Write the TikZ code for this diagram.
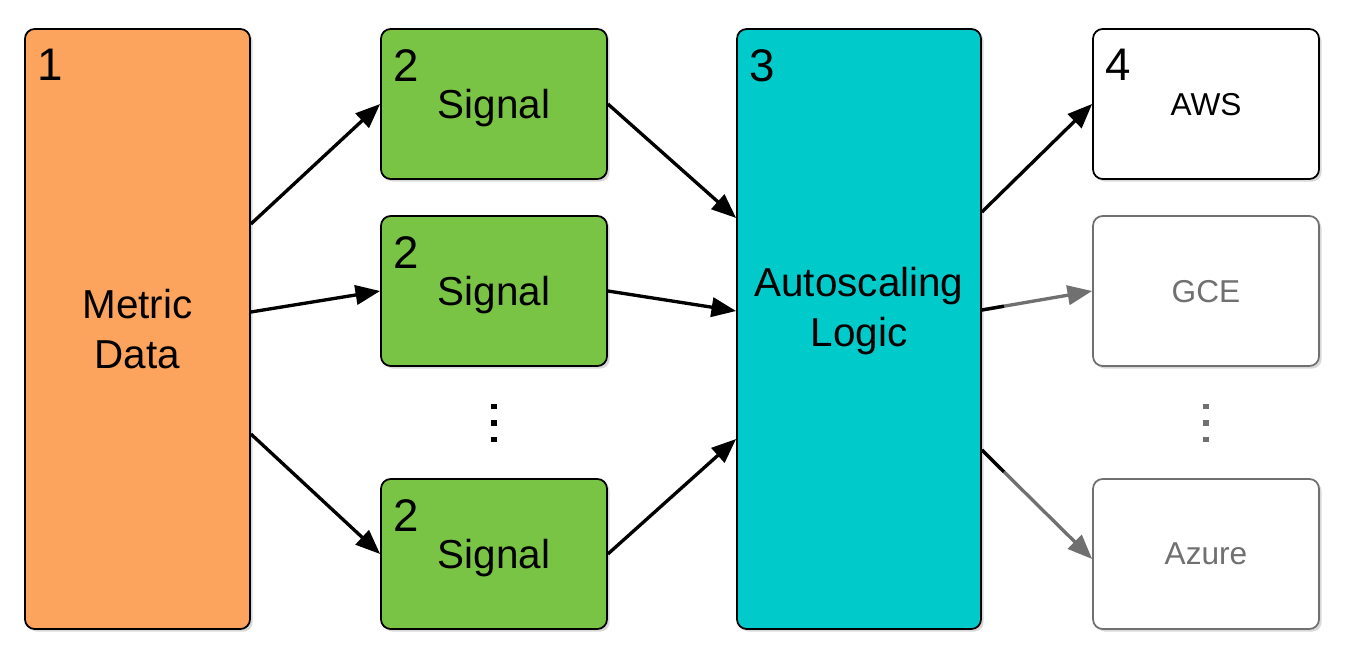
\documentclass[tikz,border=0pt]{standalone}
\usepackage{fontspec}
\setmainfont{Liberation Sans}
\usepackage{tikz}
\usetikzlibrary{arrows.meta, calc, positioning, shadows}

\definecolor{metricorange}{RGB}{252,163,93}
\definecolor{signalgreen}{RGB}{122,196,69}
\definecolor{logiccyan}{RGB}{0,202,202}
\definecolor{cloudgrey}{RGB}{112,112,112}

\begin{document}
\begin{tikzpicture}[on grid,
    box/.style={draw=black, line width=1pt, rounded corners=5.5pt, inner sep=0pt, align=center,
      font=\fontsize{23}{28}\selectfont,
      drop shadow={opacity=0.3, shadow xshift=1.5pt, shadow yshift=-1.5pt}},
    tall/.style={box, minimum height=12cm},
    small/.style={box, minimum width=4.52cm, minimum height=3cm, text depth=0pt},
    cloud/.style={small, fill=white, font=\fontsize{18}{22}\selectfont},
    off/.style={draw=cloudgrey, text=cloudgrey},
    num/.style={anchor=north west, inner sep=0pt, font=\fontsize{26}{30}\selectfont},
    link/.style={line width=1.9pt, -{Triangle[length=14pt,width=11pt]}},
    dot/.style={fill, minimum size=2.9pt, inner sep=0pt}]
      \useasboundingbox (0,0) rectangle (27,-13.2);

      \node[tall, minimum width=4.5cm, fill=metricorange] (metric) at (2.75,-6.58) {Metric\\Data};
      \node[small, fill=signalgreen] (sig_1) [above right=4.5cm and 7.13cm of metric] {Signal};
      \node[small, fill=signalgreen] (sig_2) [above right=0.76cm and 7.13cm of metric] {Signal};
      \node[small, fill=signalgreen] (sig_3) [below right=4.5cm and 7.13cm of metric] {Signal};
      \node[tall, minimum width=4.88cm, fill=logiccyan,
            label={[yshift=0.36cm, align=center, font=\fontsize{23}{28}\selectfont]center:Autoscaling\\Logic}]
            (asl) [right=14.43cm of metric] {};
      \node[cloud] (aws) [right=14.24cm of sig_1] {AWS};
      \node[cloud, off] (gce) [right=14.24cm of sig_2] {GCE};
      \node[cloud, off] (azure) [right=14.24cm of sig_3] {Azure};

      % step numbers
      \node[num] (n_1) at ([shift={(0.26,-0.42)}]metric.north west) {1};
      \node[num] (n_2) at ([shift={(0.26,-0.42)}]sig_1.north west) {2};
      \node[num] (n_3) at ([shift={(0.26,-0.42)}]sig_2.north west) {2};
      \node[num] (n_4) at ([shift={(0.26,-0.42)}]sig_3.north west) {2};
      \node[num] (n_5) at ([shift={(0.26,-0.42)}]asl.north west) {3};
      \node[num] (n_6) at ([shift={(0.26,-0.42)}]aws.north west) {4};

      % gaps
      \coordinate[below=2.64cm of sig_2] (gap_s);
      \coordinate[below=2.64cm of gce] (gap_c);
      \foreach \d [count=\i] in {0.33,0,-0.33} {
        \node[dot] (ds_\i) at ([yshift=\d cm]gap_s) {};
        \node[dot, cloudgrey] (dc_\i) at ([yshift=\d cm]gap_c) {};
      }

      \draw[link] ([yshift=2.1cm]metric.east) -- (sig_1.west);
      \draw[link] ([yshift=0.34cm]metric.east) -- (sig_2.west);
      \draw[link] ([yshift=-2.1cm]metric.east) -- (sig_3.west);
      \draw[link] (sig_1.east) -- ([yshift=2.22cm]asl.west);
      \draw[link] (sig_2.east) -- ([yshift=0.36cm]asl.west);
      \draw[link] (sig_3.east) -- ([yshift=-2.2cm]asl.west);
      \draw[link] ([yshift=2.34cm]asl.east) -- (aws.west);
      \draw[link, cloudgrey] ([yshift=0.38cm]asl.east) -- (gce.west);
      \draw[link, cloudgrey] ([yshift=-2.42cm]asl.east) -- ([yshift=-0.1cm]azure.west);
      \draw[line width=1.9pt] ([yshift=0.38cm]asl.east) -- ($([yshift=0.38cm]asl.east)!0.2!(gce.west)$);
      \draw[line width=1.9pt] ([yshift=-2.42cm]asl.east) -- ($([yshift=-2.42cm]asl.east)!0.2!([yshift=-0.1cm]azure.west)$);
\end{tikzpicture}
\end{document}
